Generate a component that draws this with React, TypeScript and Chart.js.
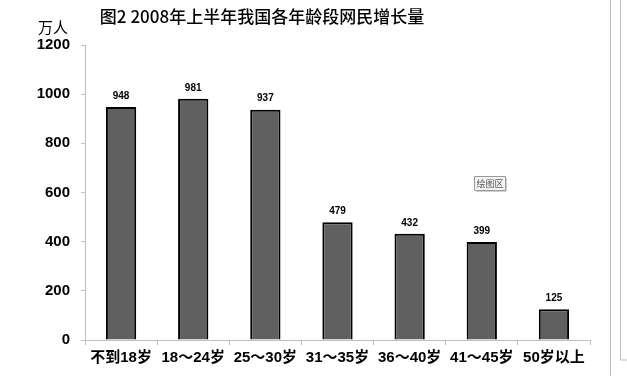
import React, { useEffect, useRef } from "react";
import { Chart, registerables } from "chart.js";

Chart.register(...registerables);

const categories = ["不到18岁", "18～24岁", "25～30岁", "31～35岁", "36～40岁", "41～45岁", "50岁以上"];
const growth = [948, 981, 937, 479, 432, 399, 125];
const yTicks = [0, 200, 400, 600, 800, 1000, 1200];
const titleText = "图2 2008年上半年我国各年龄段网民增长量";
const unitText = "万人";
const popupText = "绘图区";

const FONT = "'Liberation Sans', 'Noto Sans CJK SC', sans-serif";

const overlay = {
  id: "overlay",
  afterDatasetsDraw(chart: any) {
    const ctx = chart.ctx;
    const meta = chart.getDatasetMeta(0);
    ctx.save();
    // data labels
    ctx.fillStyle = "#000";
    ctx.font = `bold 10px ${FONT}`;
    ctx.textAlign = "center";
    ctx.textBaseline = "bottom";
    meta.data.forEach((bar: any, i: number) => {
      ctx.fillText(String(growth[i]), bar.x, bar.y - 6);
    });
    // title
    ctx.font = `500 17px 'Noto Sans CJK SC', sans-serif`;
    ctx.textAlign = "center";
    ctx.textBaseline = "middle";
    ctx.fillStyle = "#000";
    ctx.fillText(titleText, 262, 17);
    // unit
    ctx.font = `15px 'Noto Sans CJK SC', sans-serif`;
    ctx.fillText(unitText, 53, 27);
    // popup box
    const bx = 474, by = 176, bw = 31, bh = 14;
    ctx.fillStyle = "#f4f4f4";
    ctx.strokeStyle = "#9a9a9a";
    ctx.lineWidth = 1;
    ctx.beginPath();
    ctx.rect(bx + 0.5, by + 0.5, bw, bh);
    ctx.fill();
    ctx.stroke();
    ctx.strokeStyle = "#d0d0d0";
    ctx.beginPath();
    ctx.moveTo(bx + 2, by + bh + 1.5);
    ctx.lineTo(bx + bw + 1.5, by + bh + 1.5);
    ctx.lineTo(bx + bw + 1.5, by + 2);
    ctx.stroke();
    ctx.fillStyle = "#555";
    ctx.font = `9px 'Noto Sans CJK SC', sans-serif`;
    ctx.fillText(popupText, bx + bw / 2 + 0.5, by + bh / 2 + 1);
    // right window borders
    ctx.strokeStyle = "#bdbdbd";
    ctx.beginPath();
    ctx.moveTo(610.5, 0);
    ctx.lineTo(610.5, 376);
    ctx.moveTo(620.5, 0);
    ctx.lineTo(620.5, 360);
    ctx.lineTo(627, 360);
    ctx.stroke();
    ctx.restore();
  },
};

export default function App() {
  const ref = useRef<HTMLCanvasElement>(null);
  useEffect(() => {
    document.body.style.margin = "0";
    const chart = new Chart(ref.current!, {
      type: "bar",
      data: {
        labels: categories,
        datasets: [
          {
            data: growth,
            backgroundColor: "#606060",
            borderColor: "#000000",
            borderWidth: 2,
            barPercentage: 0.42,
            categoryPercentage: 1,
          },
        ],
      },
      options: {
        animation: false,
        responsive: false,
        maintainAspectRatio: false,
        layout: { padding: { top: 45, right: 37, left: 0, bottom: 0 } },
        plugins: { legend: { display: false }, tooltip: { enabled: false }, title: { display: false } },
        scales: {
          x: {
            offset: true,
            grid: {
              offset: true,
              drawOnChartArea: false,
              drawTicks: true,
              tickLength: 5,
              color: "#bfbfbf",
            },
            border: { color: "#bfbfbf", width: 1 },
            ticks: {
              color: "#000",
              font: { family: FONT, size: 15, weight: "bold" },
              padding: 4,
              maxRotation: 0,
              autoSkip: false,
            },
            afterFit(scale: any) {
              scale.height = 36;
            },
          },
          y: {
            min: 0,
            max: 1200,
            afterBuildTicks(scale: any) {
              scale.ticks = yTicks.map((v) => ({ value: v }));
            },
            grid: {
              drawOnChartArea: false,
              drawTicks: true,
              tickLength: 4,
              color: "#bfbfbf",
            },
            border: { color: "#bfbfbf", width: 1 },
            ticks: {
              color: "#000",
              font: { family: FONT, size: 15, weight: "bold" },
              padding: 11,
              callback: (v: any) => String(v),
            },
            afterFit(scale: any) {
              scale.width = 85;
            },
          },
        },
      },
      plugins: [overlay],
    });
    return () => chart.destroy();
  }, []);
  return (
    <div style={{ position: "fixed", left: 0, top: 0, width: 627, height: 376, background: "#fff" }}>
      <canvas ref={ref} width={627} height={376} style={{ width: 627, height: 376 }} />
    </div>
  );
}
